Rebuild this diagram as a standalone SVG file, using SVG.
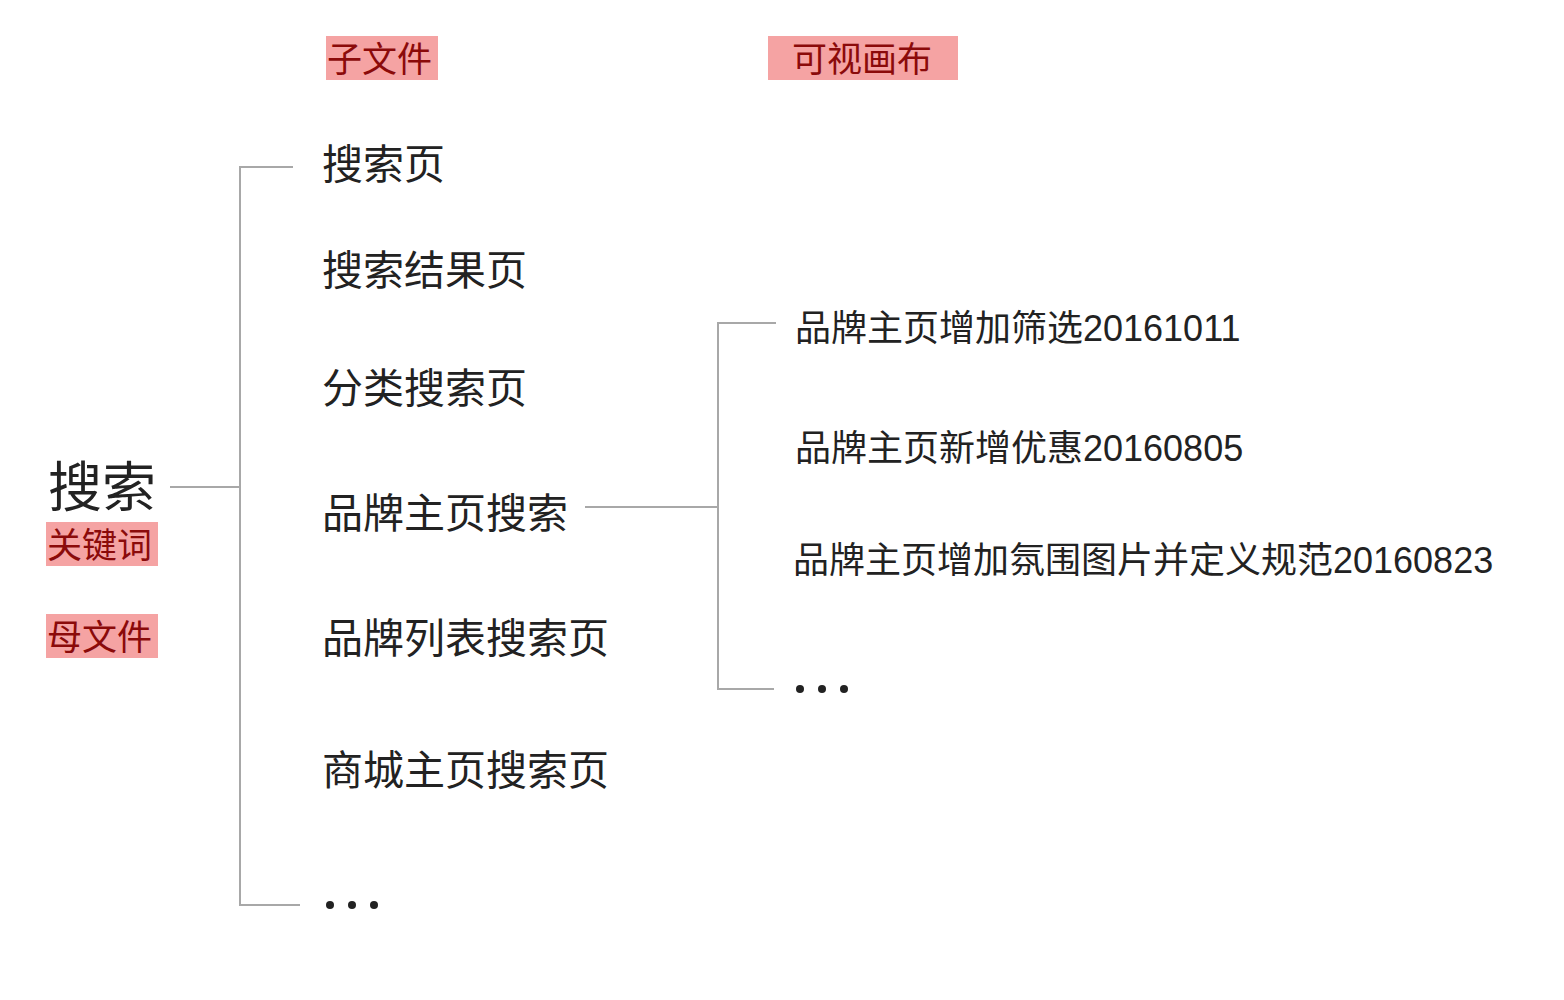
<svg xmlns="http://www.w3.org/2000/svg" width="1564" height="1000" viewBox="0 0 1564 1000">
<style>
.t{font-family:"Liberation Sans","Noto Sans CJK SC",sans-serif;fill:#222}
.c{font-size:41px}.r{font-size:36px}
.lb{fill:#f5a3a3}.lt{font-family:"Noto Sans CJK SC",sans-serif;font-size:35px;fill:#8b0a0a}
.ln{stroke:#a8a8a8;stroke-width:2;fill:none}
</style>
<rect width="1564" height="1000" fill="#fff"/>
<g id="connectors">
<path class="ln" d="M293 167H240V905H300M170 487H240"/>
<path class="ln" d="M776 323H718V689H774M585 507H718"/>
</g>
<g id="root"><text class="t" x="48" y="507" font-size="54">搜索</text></g>
<g id="lbl-key"><rect class="lb" x="46" y="522" width="112" height="44"/><text class="lt" x="47" y="558">关键词</text></g>
<g id="lbl-mother"><rect class="lb" x="46" y="614" width="112" height="44"/><text class="lt" x="47" y="650">母文件</text></g>
<g id="lbl-child"><rect class="lb" x="326" y="36" width="112" height="44"/><text class="lt" x="327" y="72">子文件</text></g>
<g id="lbl-canvas"><rect class="lb" x="768" y="36" width="190" height="44"/><text class="lt" x="792" y="72">可视画布</text></g>
<g id="c1"><text class="t c" x="322" y="179">搜索页</text></g>
<g id="c2"><text class="t c" x="322" y="285">搜索结果页</text></g>
<g id="c3"><text class="t c" x="322" y="403">分类搜索页</text></g>
<g id="c4"><text class="t c" x="322" y="528">品牌主页搜索</text></g>
<g id="c5"><text class="t c" x="322" y="653">品牌列表搜索页</text></g>
<g id="c6"><text class="t c" x="322" y="785">商城主页搜索页</text></g>
<g id="c7"><g fill="#222"><circle cx="330" cy="905" r="4"/><circle cx="352" cy="905" r="4"/><circle cx="374" cy="905" r="4"/></g></g>
<g id="r1"><text class="t r" x="795" y="341">品牌主页增加筛选20161011</text></g>
<g id="r2"><text class="t r" x="795" y="461">品牌主页新增优惠20160805</text></g>
<g id="r3"><text class="t r" x="793" y="573">品牌主页增加氛围图片并定义规范20160823</text></g>
<g id="r4"><g fill="#222"><circle cx="800" cy="689" r="4"/><circle cx="822" cy="689" r="4"/><circle cx="844" cy="689" r="4"/></g></g>
</svg>
